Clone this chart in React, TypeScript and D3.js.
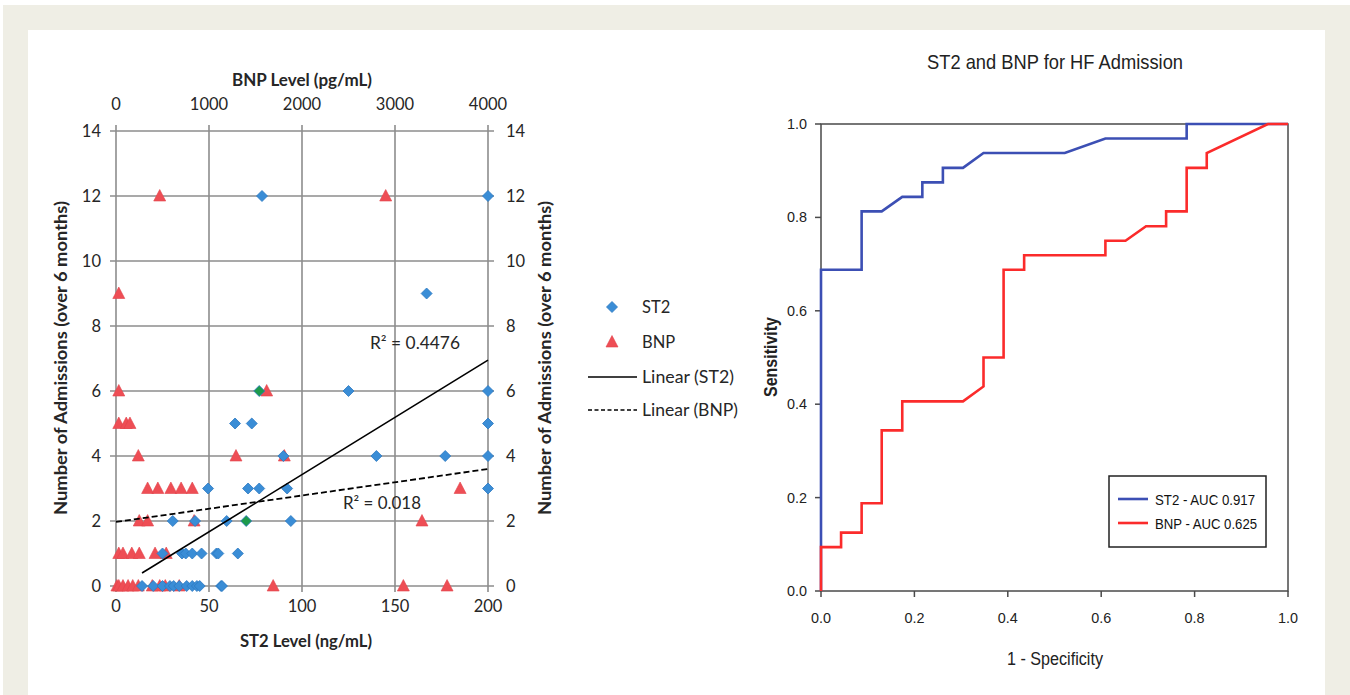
import React from 'react';
import * as d3 from 'd3';

// ---- scatter data (left panel) ----
const st2Level = [78.5, 200, 167, 125, 200, 64, 73, 200, 90, 140, 177, 200, 49.5, 71, 77, 92, 200,
  30.5, 42.5, 59.5, 94, 25, 35.5, 37.5, 41, 46, 54, 55, 65.5,
  14, 20, 25, 29, 31, 34, 38, 41, 43.5, 45, 56.5, 57];
const st2Admissions = [12, 12, 9, 6, 6, 5, 5, 5, 4, 4, 4, 4, 3, 3, 3, 3, 3,
  2, 2, 2, 2, 1, 1, 1, 1, 1, 1, 1, 1,
  0, 0, 0, 0, 0, 0, 0, 0, 0, 0, 0, 0];
const st2GreenLevel = [77, 70];
const st2GreenAdmissions = [6, 2];

const bnpLevel = [470, 2900, 30, 30, 1620, 30, 110, 150, 240, 1290, 1810, 340, 450, 590, 700, 820, 3700,
  250, 340, 840, 3290, 30, 75, 170, 250, 420, 540,
  10, 30, 75, 130, 180, 240, 390, 470, 530, 680, 1690, 3090, 3560];
const bnpAdmissions = [12, 12, 9, 6, 6, 5, 5, 5, 4, 4, 4, 3, 3, 3, 3, 3, 3,
  2, 2, 2, 2, 1, 1, 1, 1, 1, 1,
  0, 0, 0, 0, 0, 0, 0, 0, 0, 0, 0, 0, 0];

const st2TrendX = [14, 200];
const st2TrendY = [0.4, 6.95];
const bnpTrendX = [0, 4000];
const bnpTrendY = [1.97, 3.6];

const st2Ticks = [0, 50, 100, 150, 200];
const bnpTicks = [0, 1000, 2000, 3000, 4000];
const admissionTicks = [0, 2, 4, 6, 8, 10, 12, 14];

// ---- ROC data (right panel) ----
const st2RocFpr = [0, 0, 0.087, 0.087, 0.130, 0.174, 0.217, 0.217, 0.261, 0.261, 0.304, 0.348, 0.522, 0.609, 0.783, 0.783, 1.0];
const st2RocTpr = [0, 0.688, 0.688, 0.813, 0.813, 0.844, 0.844, 0.875, 0.875, 0.906, 0.906, 0.938, 0.938, 0.969, 0.969, 1.0, 1.0];
const bnpRocFpr = [0, 0, 0.043, 0.043, 0.087, 0.087, 0.130, 0.130, 0.174, 0.174, 0.304, 0.348, 0.348, 0.391, 0.391,
  0.435, 0.435, 0.609, 0.609, 0.652, 0.696, 0.739, 0.739, 0.783, 0.783, 0.826, 0.826, 0.957, 1.0];
const bnpRocTpr = [0, 0.094, 0.094, 0.125, 0.125, 0.188, 0.188, 0.344, 0.344, 0.406, 0.406, 0.438, 0.5, 0.5, 0.688,
  0.688, 0.719, 0.719, 0.75, 0.75, 0.781, 0.781, 0.813, 0.813, 0.906, 0.906, 0.938, 1.0, 1.0];
const rocTicks = [0, 0.2, 0.4, 0.6, 0.8, 1.0];
const rocLegend = ['ST2 - AUC 0.917', 'BNP - AUC 0.625'];

const CAL = 'Lato, "Open Sans", sans-serif';
const NARROW = '"Liberation Sans Narrow", "Liberation Sans", Arial, sans-serif';
const GRID = '#8d8d8d';
const BLUE_PT = '#3a8dd6';
const RED_PT = '#ee4e55';
const GREEN_PT = '#1d9a4c';
const ROC_BLUE = '#3c4fb4';
const ROC_RED = '#fb2b2b';
const INK = '#262626';

const diamond = (x: number, y: number) =>
  `M${x},${y - 5.5}L${x + 5.5},${y}L${x},${y + 5.5}L${x - 5.5},${y}Z`;
const triangle = (x: number, y: number) =>
  `M${x},${y - 6.5}L${x + 6},${y + 5}L${x - 6},${y + 5}Z`;

function Scatter() {
  const x = d3.scaleLinear().domain([0, 200]).range([116, 488]);
  const xTop = d3.scaleLinear().domain([0, 4000]).range([116, 488]);
  const y = d3.scaleLinear().domain([0, 14]).range([586, 131]);
  const line = d3.line<number[]>().x(d => d[0]).y(d => d[1]);

  const st2Trend = st2TrendX.map((v, i) => [x(v), y(st2TrendY[i])]);
  const bnpTrend = bnpTrendX.map((v, i) => [xTop(v), y(bnpTrendY[i])]);

  return (
    <g fontFamily={CAL}>
      {/* grid */}
      {admissionTicks.map(t => (
        <line key={'h' + t} x1={110} x2={494} y1={y(t)} y2={y(t)} stroke={GRID} strokeWidth={1.6} />
      ))}
      {st2Ticks.map(t => (
        <line key={'v' + t} x1={x(t)} x2={x(t)} y1={y(14) - 6} y2={y(0) + 6} stroke={GRID} strokeWidth={1.6} />
      ))}
      {/* tick labels */}
      {admissionTicks.map(t => (
        <g key={'yl' + t} fontSize={16.5} fill={INK}>
          <text x={101} y={y(t) + 6} textAnchor="end">{t}</text>
          <text x={506} y={y(t) + 6} textAnchor="start">{t}</text>
        </g>
      ))}
      {st2Ticks.map(t => (
        <text key={'xb' + t} x={x(t)} y={612} textAnchor="middle" fontSize={16.5} fill={INK}>{t}</text>
      ))}
      {bnpTicks.map(t => (
        <text key={'xt' + t} x={xTop(t)} y={110} textAnchor="middle" fontSize={16.5} fill={INK}>{t}</text>
      ))}
      <text x={302} y={86} textAnchor="middle" fontSize={16.5} fontWeight="bold" fill={INK}
        textLength={140} lengthAdjust="spacingAndGlyphs">BNP Level (pg/mL)</text>
      <text x={306} y={647} textAnchor="middle" fontSize={16.5} fontWeight="bold" fill={INK}
        textLength={132} lengthAdjust="spacingAndGlyphs">ST2 Level (ng/mL)</text>
      <text transform="translate(67,358) rotate(-90)" textAnchor="middle" fontSize={16.5} fontWeight="bold" fill={INK}
        textLength={314} lengthAdjust="spacingAndGlyphs">
        Number of Admissions (over 6 months)
      </text>
      <text transform="translate(551,358) rotate(-90)" textAnchor="middle" fontSize={16.5} fontWeight="bold" fill={INK}
        textLength={314} lengthAdjust="spacingAndGlyphs">
        Number of Admissions (over 6 months)
      </text>

      {/* points */}
      {bnpLevel.map((v, i) => (
        <path key={'b' + i} d={triangle(xTop(v), y(bnpAdmissions[i]))} fill={RED_PT} stroke="#e2434b" strokeWidth={0.6} />
      ))}
      {st2Level.map((v, i) => (
        <path key={'s' + i} d={diamond(x(v), y(st2Admissions[i]))} fill={BLUE_PT} stroke="#2c78c0" strokeWidth={0.8} />
      ))}
      {st2GreenLevel.map((v, i) => (
        <path key={'g' + i} d={diamond(x(v), y(st2GreenAdmissions[i]))} fill={GREEN_PT} stroke="#2c78c0" strokeWidth={0.8} />
      ))}

      {/* trend lines */}
      <path d={line(st2Trend) || ''} stroke="#000" strokeWidth={1.6} fill="none" />
      <path d={line(bnpTrend) || ''} stroke="#000" strokeWidth={1.8} strokeDasharray="6,3" fill="none" />
      <text x={370} y={349} fontSize={16.5} fill={INK} textLength={90} lengthAdjust="spacingAndGlyphs">R² = 0.4476</text>
      <text x={343} y={509} fontSize={16.5} fill={INK} textLength={78} lengthAdjust="spacingAndGlyphs">R² = 0.018</text>

      {/* legend */}
      <path d={diamond(612, 307)} fill={BLUE_PT} stroke="#2c78c0" strokeWidth={0.8} />
      <text x={642} y={313} fontSize={16.5} fill={INK}>ST2</text>
      <path d={triangle(612, 342)} fill={RED_PT} stroke="#e2434b" strokeWidth={0.6} />
      <text x={642} y={348} fontSize={16.5} fill={INK}>BNP</text>
      <line x1={588} x2={637} y1={377} y2={377} stroke="#000" strokeWidth={1.5} />
      <text x={642} y={383} fontSize={16.5} fill={INK} textLength={92} lengthAdjust="spacingAndGlyphs">Linear (ST2)</text>
      <line x1={588} x2={637} y1={410} y2={410} stroke="#000" strokeWidth={1.5} strokeDasharray="4,2.5" />
      <text x={642} y={416} fontSize={16.5} fill={INK} textLength={96} lengthAdjust="spacingAndGlyphs">Linear (BNP)</text>
    </g>
  );
}

function Roc() {
  const x = d3.scaleLinear().domain([0, 1]).range([821, 1288]);
  const y = d3.scaleLinear().domain([0, 1]).range([591, 124]);
  const st2Path = d3.line<number>()
    .x(d => x(st2RocFpr[d]))
    .y(d => y(st2RocTpr[d]))(d3.range(st2RocFpr.length));
  const bnpPath = d3.line<number>()
    .x(d => x(bnpRocFpr[d]))
    .y(d => y(bnpRocTpr[d]))(d3.range(bnpRocFpr.length));
  const axisColor = '#4a4a4a';

  return (
    <g fontFamily={NARROW}>
      <text x={1055} y={69} textAnchor="middle" fontSize={21} fill="#222" textLength={256} lengthAdjust="spacingAndGlyphs">
        ST2 and BNP for HF Admission
      </text>
      <rect x={x(0)} y={y(1)} width={x(1) - x(0)} height={y(0) - y(1)} fill="none" stroke={axisColor} strokeWidth={1.5} />
      {rocTicks.map(t => (
        <g key={'t' + t}>
          <line x1={x(0) - 6} x2={x(0)} y1={y(t)} y2={y(t)} stroke={axisColor} strokeWidth={1.5} />
          <line x1={x(t)} x2={x(t)} y1={y(0)} y2={y(0) + 6} stroke={axisColor} strokeWidth={1.5} />
          <text x={807} y={y(t) + 5} textAnchor="end" fontSize={15} fill="#222" textLength={20} lengthAdjust="spacingAndGlyphs">{t.toFixed(1)}</text>
          <text x={x(t)} y={623} textAnchor="middle" fontSize={15} fill="#222" textLength={20} lengthAdjust="spacingAndGlyphs">{t.toFixed(1)}</text>
        </g>
      ))}
      <text transform="translate(777,357) rotate(-90)" textAnchor="middle" fontSize={18} fontWeight="bold" fill="#222"
        textLength={80} lengthAdjust="spacingAndGlyphs">
        Sensitivity
      </text>
      <text x={1055} y={665} textAnchor="middle" fontSize={18} fill="#222" textLength={96} lengthAdjust="spacingAndGlyphs">1 - Specificity</text>

      <path d={st2Path || ''} stroke={ROC_BLUE} strokeWidth={2.6} fill="none" />
      <path d={bnpPath || ''} stroke={ROC_RED} strokeWidth={2.6} fill="none" />

      <rect x={1109} y={476} width={157} height={71} fill="#fff" stroke="#222" strokeWidth={1.5} />
      <line x1={1118} x2={1148} y1={499} y2={499} stroke={ROC_BLUE} strokeWidth={2.6} />
      <line x1={1118} x2={1148} y1={523} y2={523} stroke={ROC_RED} strokeWidth={2.6} />
      <text x={1155} y={505} fontSize={15} fill="#111" textLength={100} lengthAdjust="spacingAndGlyphs">{rocLegend[0]}</text>
      <text x={1155} y={529} fontSize={15} fill="#111" textLength={102} lengthAdjust="spacingAndGlyphs">{rocLegend[1]}</text>
    </g>
  );
}

export default function App() {
  return (
    <svg width={1350} height={695} style={{ position: 'absolute', left: 0, top: 0 }}>
      <rect x={0} y={0} width={1350} height={695} fill="#fff" />
      <rect x={3} y={5} width={1347} height={690} fill="#efeee5" />
      <rect x={28} y={30} width={1297} height={665} fill="#fff" />
      <Scatter />
      <Roc />
    </svg>
  );
}
